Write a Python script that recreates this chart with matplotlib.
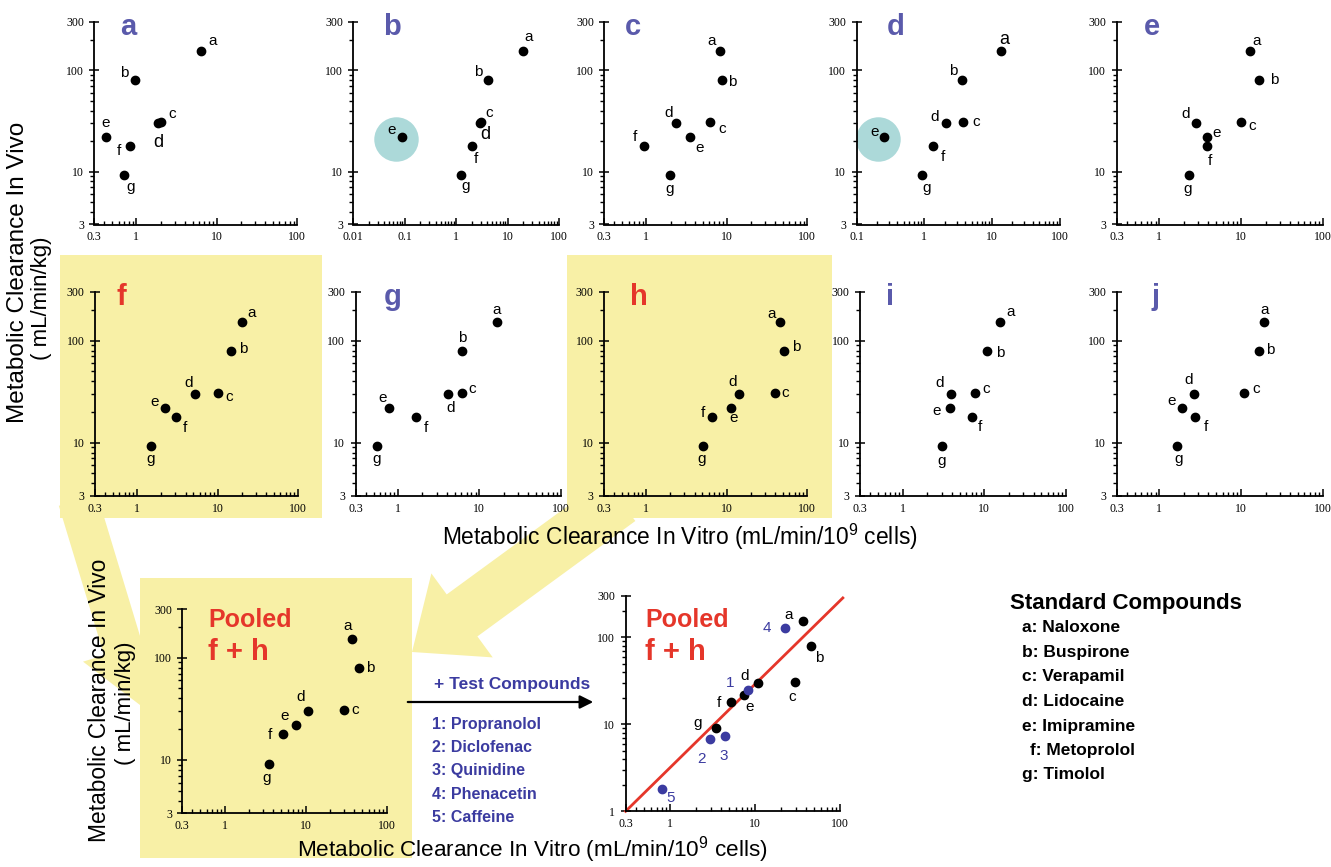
import numpy as np
import matplotlib
matplotlib.use('Agg')
import matplotlib.pyplot as plt
from matplotlib.ticker import FixedLocator, FixedFormatter, LogLocator, NullFormatter
from matplotlib.patches import Rectangle, Polygon
import matplotlib.transforms as mtransforms

plt.rcParams['font.family'] = ['Liberation Sans', 'DejaVu Sans']
plt.rcParams['mathtext.fontset'] = 'custom'
plt.rcParams['mathtext.rm'] = 'Liberation Sans'
plt.rcParams['mathtext.it'] = 'Liberation Sans:italic'
plt.rcParams['mathtext.bf'] = 'Liberation Sans:bold'

# ---------------- data ----------------
compounds = ['a', 'b', 'c', 'd', 'e', 'f', 'g']
compound_names = ['Naloxone', 'Buspirone', 'Verapamil', 'Lidocaine',
                  'Imipramine', 'Metoprolol', 'Timolol']
in_vivo = [154, 80, 31, 30, 22, 18, 9.2]

invitro_a = [6.4, 0.97, 2.03, 1.84, 0.415, 0.84, 0.70]
invitro_b = [19.4, 4.15, 3.0, 2.9, 0.088, 2.0, 1.21]
invitro_c = [8.3, 8.8, 6.2, 2.36, 3.5, 0.93, 1.95]
invitro_d = [13.6, 3.6, 3.77, 2.11, 0.256, 1.36, 0.93]
invitro_e = [12.8, 16.8, 10.1, 2.81, 3.8, 3.87, 2.3]
invitro_f = [20.3, 14.7, 10.2, 5.2, 2.25, 3.03, 1.48]
invitro_g = [16.6, 6.2, 6.1, 4.08, 0.77, 1.67, 0.55]
invitro_h = [46.6, 52, 39.6, 14.4, 11.4, 6.6, 5.1]
invitro_i = [15.7, 10.7, 7.7, 3.94, 3.8, 7.0, 3.03]
invitro_j = [19, 16.5, 11, 2.66, 1.9, 2.73, 1.66]
invitro_pooled = [37, 45, 29.3, 10.7, 7.5, 5.25, 3.5]

test_ids = ['1', '2', '3', '4', '5']
test_names = ['Propranolol', 'Diclofenac', 'Quinidine', 'Phenacetin', 'Caffeine']
test_invitro = [8.2, 2.93, 4.4, 22.7, 0.81]
test_invivo = [24.8, 6.8, 7.3, 129, 1.79]

fit_x = [0.3, 108]
fit_y = [1.0, 285]

xticks_std = [0.3, 1, 10, 100]
xticks_b = [0.01, 0.1, 1, 10, 100]
xticks_d = [0.1, 1, 10, 100]
yticks_std = [3, 10, 100, 300]
yticks_pool = [1, 10, 100, 300]

# ---------------- style / layout ----------------
W, H = 1331, 867
BLUE_LET = '#5a5aab'
RED = '#e5362a'
TBLUE = '#3b3ba0'
YEL = '#f8f0a6'
CYAN = '#acd9d9'

fig = plt.figure(figsize=(W / 100, H / 100), dpi=100)

bg = fig.add_axes([0, 0, 1, 1], zorder=-5)
bg.set_xlim(0, W)
bg.set_ylim(H, 0)
bg.axis('off')


def arrow_poly(start, tip, hw, headw, headlen):
    s = np.array(start, float)
    t = np.array(tip, float)
    u = (t - s) / np.linalg.norm(t - s)
    n = np.array([-u[1], u[0]])
    b = t - headlen * u
    pts = [s + hw * n, b + hw * n, b + headw * n, t, b - headw * n, b - hw * n, s - hw * n]
    return np.array(pts)


# yellow highlight boxes and arrows
for (x0, y0, x1, y1) in [(60, 255, 322, 518), (567, 255, 832, 518), (140, 578, 412, 858)]:
    bg.add_patch(Rectangle((x0, y0), x1 - x0, y1 - y0, facecolor=YEL, edgecolor='none'))
bg.add_patch(Polygon(arrow_poly((78, 500), (140, 705), 20, 42, 58), facecolor=YEL, edgecolor='none'))
bg.add_patch(Polygon(arrow_poly((620, 500), (412, 652), 26, 52, 62), facecolor=YEL, edgecolor='none'))

# black arrow
bg.annotate('', xy=(596, 702), xytext=(405, 702),
            arrowprops=dict(arrowstyle='-|>', color='black', lw=1.6, mutation_scale=20))

layout = {
    'a': (94.3, 22, 203, 202.5), 'b': (353.3, 22, 206, 202.5), 'c': (604.3, 22, 203, 202.5),
    'd': (856.7, 22, 203, 202.5), 'e': (1116.6, 22, 206, 202.5),
    'f': (95, 292, 203, 204), 'g': (355.5, 292, 205, 204), 'h': (604, 292, 203, 204),
    'i': (860, 292, 206, 204), 'j': (1116.6, 292, 206, 204),
    'pool': (182.3, 609, 204.4, 204.3), 'pool2': (625.6, 596, 214.4, 215.3),
}

letter_x = {'a': .168, 'b': .19, 'c': .14, 'd': .19, 'e': .17,
            'f': .13, 'g': .18, 'h': .17, 'i': .145, 'j': .19}

offsets = {
    'a': [(11, 10), (-11, 7), (11, 8), (1, -19), (0, 14), (-11, -5), (7, -12)],
    'b': [(6, 14), (-10, 8), (8, 9), (5, -11), (-10, 7), (4, -13), (5, -11)],
    'c': [(-9, 10), (10, -2), (12, -7), (-8, 10), (9, -11), (-9, 9), (0, -14)],
    'd': [(3, 12), (-9, 9), (13, 0), (-12, 6), (-10, 5), (10, -11), (4, -13)],
    'e': [(7, 10), (15, 0), (11, -4), (-10, 9), (10, 4), (3, -15), (-1, -14)],
    'f': [(9, 9), (12, 2), (11, -4), (-6, 11), (-11, 6), (9, -11), (0, -13)],
    'g': [(-1, 12), (0, 13), (10, 4), (3, -14), (-6, 10), (10, -11), (0, -13)],
    'h': [(-9, 8), (12, 4), (11, 0), (-7, 12), (3, -10), (-9, 4), (-1, -13)],
    'i': [(10, 10), (13, -2), (11, 4), (-12, 11), (-13, -3), (8, -10), (0, -15)],
    'j': [(1, 12), (12, 1), (12, 4), (-5, 14), (-10, 7), (11, -10), (1, -13)],
    'pool': [(-4, 13), (12, 0), (12, 0), (-7, 14), (-11, 9), (-13, -1), (-2, -14)],
    'pool2': [(-15, 6), (9, -12), (-3, -15), (-13, 7), (5, -12), (-12, -1), (-19, 5)],
}
test_offsets = [(-18, 7), (-8, -20), (-1, -20), (-18, 0), (8, -9)]
big_labels = {('a', 'd'), ('b', 'd'), ('d', 'a')}

panels = [
    ('a', invitro_a, (0.3, 100), xticks_std, BLUE_LET),
    ('b', invitro_b, (0.01, 100), xticks_b, BLUE_LET),
    ('c', invitro_c, (0.3, 100), xticks_std, BLUE_LET),
    ('d', invitro_d, (0.1, 100), xticks_d, BLUE_LET),
    ('e', invitro_e, (0.3, 100), xticks_std, BLUE_LET),
    ('f', invitro_f, (0.3, 100), xticks_std, RED),
    ('g', invitro_g, (0.3, 100), xticks_std, BLUE_LET),
    ('h', invitro_h, (0.3, 100), xticks_std, RED),
    ('i', invitro_i, (0.3, 100), xticks_std, BLUE_LET),
    ('j', invitro_j, (0.3, 100), xticks_std, BLUE_LET),
]


def make_axes(key):
    l, t, w, h = layout[key]
    ax = fig.add_axes([l / W, 1 - (t + h) / H, w / W, h / H])
    ax.set_facecolor('none')
    ax.set_xscale('log')
    ax.set_yscale('log')
    for s in ['top', 'right']:
        ax.spines[s].set_visible(False)
    for s in ['left', 'bottom']:
        ax.spines[s].set_linewidth(1.3)
    return ax


def style_ticks(ax, xt, yt):
    ax.xaxis.set_major_locator(FixedLocator(xt))
    ax.xaxis.set_major_formatter(FixedFormatter([('%g' % v) for v in xt]))
    ax.yaxis.set_major_locator(FixedLocator(yt))
    ax.yaxis.set_major_formatter(FixedFormatter([('%g' % v) for v in yt]))
    ax.xaxis.set_minor_locator(LogLocator(base=10, subs=np.arange(2, 10)))
    ax.yaxis.set_minor_locator(LogLocator(base=10, subs=np.arange(2, 10)))
    ax.xaxis.set_minor_formatter(NullFormatter())
    ax.yaxis.set_minor_formatter(NullFormatter())
    ax.tick_params(axis='x', which='major', direction='in', length=5, width=1.1, pad=5)
    ax.tick_params(axis='x', which='minor', direction='in', length=3, width=1.0)
    ax.tick_params(axis='y', which='major', direction='inout', length=7, width=1.1, pad=4)
    ax.tick_params(axis='y', which='minor', direction='out', length=3, width=1.0)
    for lab in ax.get_xticklabels() + ax.get_yticklabels():
        lab.set_fontfamily('Liberation Serif')
        lab.set_fontsize(8.5)


def plot_points(ax, key, xs, ys):
    ax.scatter(xs, ys, s=36, color='black', zorder=3, clip_on=False)
    for name, x, y, (dx, dy) in zip(compounds, xs, ys, offsets[key]):
        fs = 13 if (key, name) in big_labels else 11
        ax.annotate(name, (x, y), xytext=(dx, dy), textcoords='offset pixels',
                    ha='center', va='center', fontsize=fs, color='black')


for key, xs, xlim, xt, col in panels:
    ax = make_axes(key)
    ax.set_xlim(*xlim)
    ax.set_ylim(3, 300)
    style_ticks(ax, xt, yticks_std)
    if key in ('b', 'd'):
        idx = compounds.index('e')
        tr = mtransforms.offset_copy(ax.transData, fig=fig, x=-6, y=-2, units='dots')
        ax.plot([xs[idx]], [in_vivo[idx]], 'o', ms=32, color=CYAN, mec='none',
                transform=tr, zorder=1)
    plot_points(ax, key, xs, in_vivo)
    ax.text(letter_x[key], 0.935, key, transform=ax.transAxes, ha='center',
            va='baseline', fontsize=21, fontweight='bold', color=col)

# pooled (left)
ax = make_axes('pool')
ax.set_xlim(0.3, 100)
ax.set_ylim(3, 300)
style_ticks(ax, xticks_std, yticks_std)
plot_points(ax, 'pool', invitro_pooled, in_vivo)
ax.text(0.126, 0.913, 'Pooled', transform=ax.transAxes, ha='left', va='baseline',
        fontsize=18, fontweight='bold', color=RED)
ax.text(0.126, 0.75, 'f + h', transform=ax.transAxes, ha='left', va='baseline',
        fontsize=21, fontweight='bold', color=RED)

# pooled with test compounds (right)
ax = make_axes('pool2')
ax.set_xlim(0.3, 100)
ax.set_ylim(1, 300)
style_ticks(ax, xticks_std, yticks_pool)
ax.plot(fit_x, fit_y, color=RED, lw=2, clip_on=False, zorder=2)
plot_points(ax, 'pool2', invitro_pooled, in_vivo)
ax.scatter(test_invitro, test_invivo, s=36, color=TBLUE, zorder=3, clip_on=False)
for name, x, y, (dx, dy) in zip(test_ids, test_invitro, test_invivo, test_offsets):
    ax.annotate(name, (x, y), xytext=(dx, dy), textcoords='offset pixels',
                ha='center', va='center', fontsize=11, color=TBLUE)
ax.text(0.09, 0.857, 'Pooled', transform=ax.transAxes, ha='left', va='baseline',
        fontsize=18, fontweight='bold', color=RED)
ax.text(0.09, 0.702, 'f + h', transform=ax.transAxes, ha='left', va='baseline',
        fontsize=21, fontweight='bold', color=RED)


def ftext(x, y, s, **kw):
    fig.text(x / W, 1 - y / H, s, **kw)


# axis labels
xlab = r'Metabolic Clearance In Vitro (mL/min/10$^9$ cells)'
ftext(680, 537, xlab, ha='center', va='center', fontsize=16.4)
ftext(532, 865, xlab, ha='center', va='bottom', fontsize=16.2)
ftext(18, 272, 'Metabolic Clearance In Vivo', ha='center', va='center', rotation=90, fontsize=17.5)
ftext(42, 298, '( mL/min/kg)', ha='center', va='center', rotation=90, fontsize=16)
ftext(100, 700, 'Metabolic Clearance In Vivo', ha='center', va='center', rotation=90, fontsize=16.4)
ftext(126, 703, '( mL/min/kg)', ha='center', va='center', rotation=90, fontsize=16)

# test compounds list
ftext(434, 684, '+ Test Compounds', ha='left', va='center', fontsize=12.5,
      fontweight='bold', color=TBLUE)
for k, (tid, tname) in enumerate(zip(test_ids, test_names)):
    ftext(432, 724 + k * 23.5, f'{tid}: {tname}', ha='left', va='center',
          fontsize=11.5, fontweight='bold', color=TBLUE)

# standard compounds legend
ftext(1010, 603, 'Standard Compounds', ha='left', va='center', fontsize=16,
      fontweight='bold', color='black')
for k, (c, nm) in enumerate(zip(compounds, compound_names)):
    xx = 1030 if c == 'f' else 1022
    ftext(xx, 628 + k * 24.5, f'{c}: {nm}', ha='left', va='center', fontsize=12.5,
          fontweight='bold', color='black')

fig.savefig('out.png', dpi=100)
